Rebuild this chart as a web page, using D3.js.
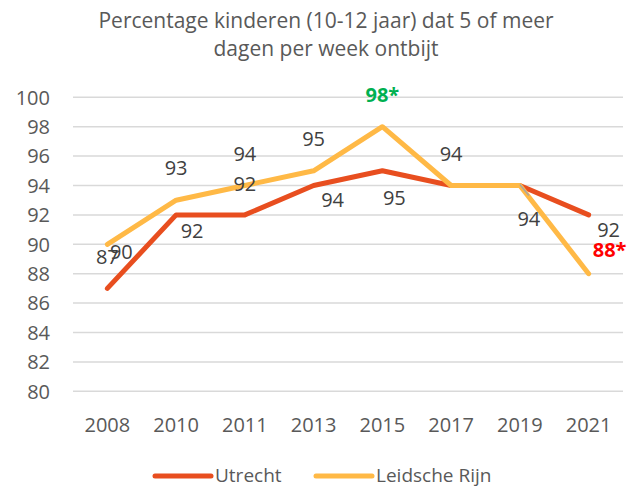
<!DOCTYPE html>
<html>
<head>
<meta charset="utf-8">
<script src="https://cdn.jsdelivr.net/npm/d3@7"></script>
<style>
  body { margin: 0; background: #fff; }
  text { font-family: "Open Sans", sans-serif; }
</style>
</head>
<body>
<svg width="638" height="488"></svg>
<script>
const years = ['2008', '2010', '2011', '2013', '2015', '2017', '2019', '2021']
const utrecht = [87, 92, 92, 94, 95, 94, 94, 92]
const leidscheRijn = [90, 93, 94, 95, 98, 94, 94, 88]
const yTicks = [80, 82, 84, 86, 88, 90, 92, 94, 96, 98, 100]
const titleLines = ['Percentage kinderen (10-12 jaar) dat 5 of meer', 'dagen per week ontbijt']

// which data labels are shown, and the special ones
const utrechtLabels = ['87', '92', '92', '94', '95', null, '94', '92']
const leidscheLabels = ['90', '93', '94', '95', '98*', '94', null, '88*']

// label offsets from the point (layout only)
const utrechtOff = [[0, -32], [16, 16], [0, -31], [19, 14], [12, 27], null, [9, 33], [20, 15]]
const leidscheOff = [[14, 7], [0, -32], [0, -32], [0, -32], [0, -32], [0, -32], null, [21, -24]]

const series = [
  { name: 'Utrecht', values: utrecht, labels: utrechtLabels, off: utrechtOff, color: '#E84E1F' },
  { name: 'Leidsche Rijn', values: leidscheRijn, labels: leidscheLabels, off: leidscheOff, color: '#FFB946' }
]

const width = 638, height = 488
const svg = d3.select('svg')

const x = d3.scalePoint()
  .domain(years)
  .range([73, 623])
  .padding(0.5)
const y = d3.scaleLinear()
  .domain([80, 100])
  .range([391.3, 97.3])

// title
svg.append('g').selectAll('text')
  .data(titleLines)
  .enter().append('text')
  .attr('x', 326)
  .attr('y', (d, i) => 28 + i * 28)
  .attr('text-anchor', 'middle')
  .attr('fill', '#595959')
  .style('font-size', '21px')
  .text(d => d)

// grid
svg.append('g').selectAll('line')
  .data(yTicks)
  .enter().append('line')
  .attr('x1', 73).attr('x2', 623)
  .attr('y1', d => y(d)).attr('y2', d => y(d))
  .attr('stroke', '#D9D9D9')
  .attr('stroke-width', 1.5)

// y axis labels
svg.append('g').selectAll('text')
  .data(yTicks)
  .enter().append('text')
  .attr('x', 50)
  .attr('y', d => y(d))
  .attr('dy', '0.36em')
  .attr('text-anchor', 'end')
  .attr('fill', '#595959')
  .style('font-size', '20px')
  .text(d => d)

// x axis labels
svg.append('g').selectAll('text')
  .data(years)
  .enter().append('text')
  .attr('x', d => x(d))
  .attr('y', 432)
  .attr('text-anchor', 'middle')
  .attr('fill', '#595959')
  .style('font-size', '20px')
  .text(d => d)

const line = d3.line()
  .x((d, i) => x(years[i]))
  .y(d => y(d))

series.forEach(function (s) {
  svg.append('path')
    .datum(s.values)
    .attr('d', line)
    .attr('fill', 'none')
    .attr('stroke', s.color)
    .attr('stroke-width', 5)
    .attr('stroke-linejoin', 'round')
    .attr('stroke-linecap', 'round')
})

// leader line at 2019
svg.append('line')
  .attr('x1', x('2019')).attr('y1', y(94) - 1)
  .attr('x2', x('2019') + 9).attr('y2', y(94) + 10)
  .attr('stroke', '#A6A6A6')
  .attr('stroke-width', 1.5)

// data labels
series.forEach(function (s) {
  svg.append('g').selectAll('text')
    .data(s.values.map((v, i) => ({ v: v, i: i, label: s.labels[i], off: s.off[i] })).filter(d => d.label))
    .enter().append('text')
    .attr('x', d => x(years[d.i]) + d.off[0])
    .attr('y', d => y(d.v) + d.off[1])
    .attr('dy', '0.36em')
    .attr('text-anchor', 'middle')
    .attr('fill', d => d.label === '98*' ? '#00B050' : d.label === '88*' ? '#FF0000' : '#404040')
    .style('font-weight', d => d.label.indexOf('*') >= 0 ? 'bold' : 'normal')
    .style('font-size', '20px')
    .text(d => d.label)
})

// legend
const legend = svg.append('g')
const legendX = [155, 316]
series.forEach(function (s, i) {
  legend.append('line')
    .attr('x1', legendX[i]).attr('x2', legendX[i] + 56)
    .attr('y1', 476).attr('y2', 476)
    .attr('stroke', s.color)
    .attr('stroke-width', 5)
    .attr('stroke-linecap', 'round')
  legend.append('text')
    .attr('x', legendX[i] + 60)
    .attr('y', 482)
    .attr('fill', '#595959')
    .style('font-size', '19px')
    .text(s.name)
})
</script>
</body>
</html>
